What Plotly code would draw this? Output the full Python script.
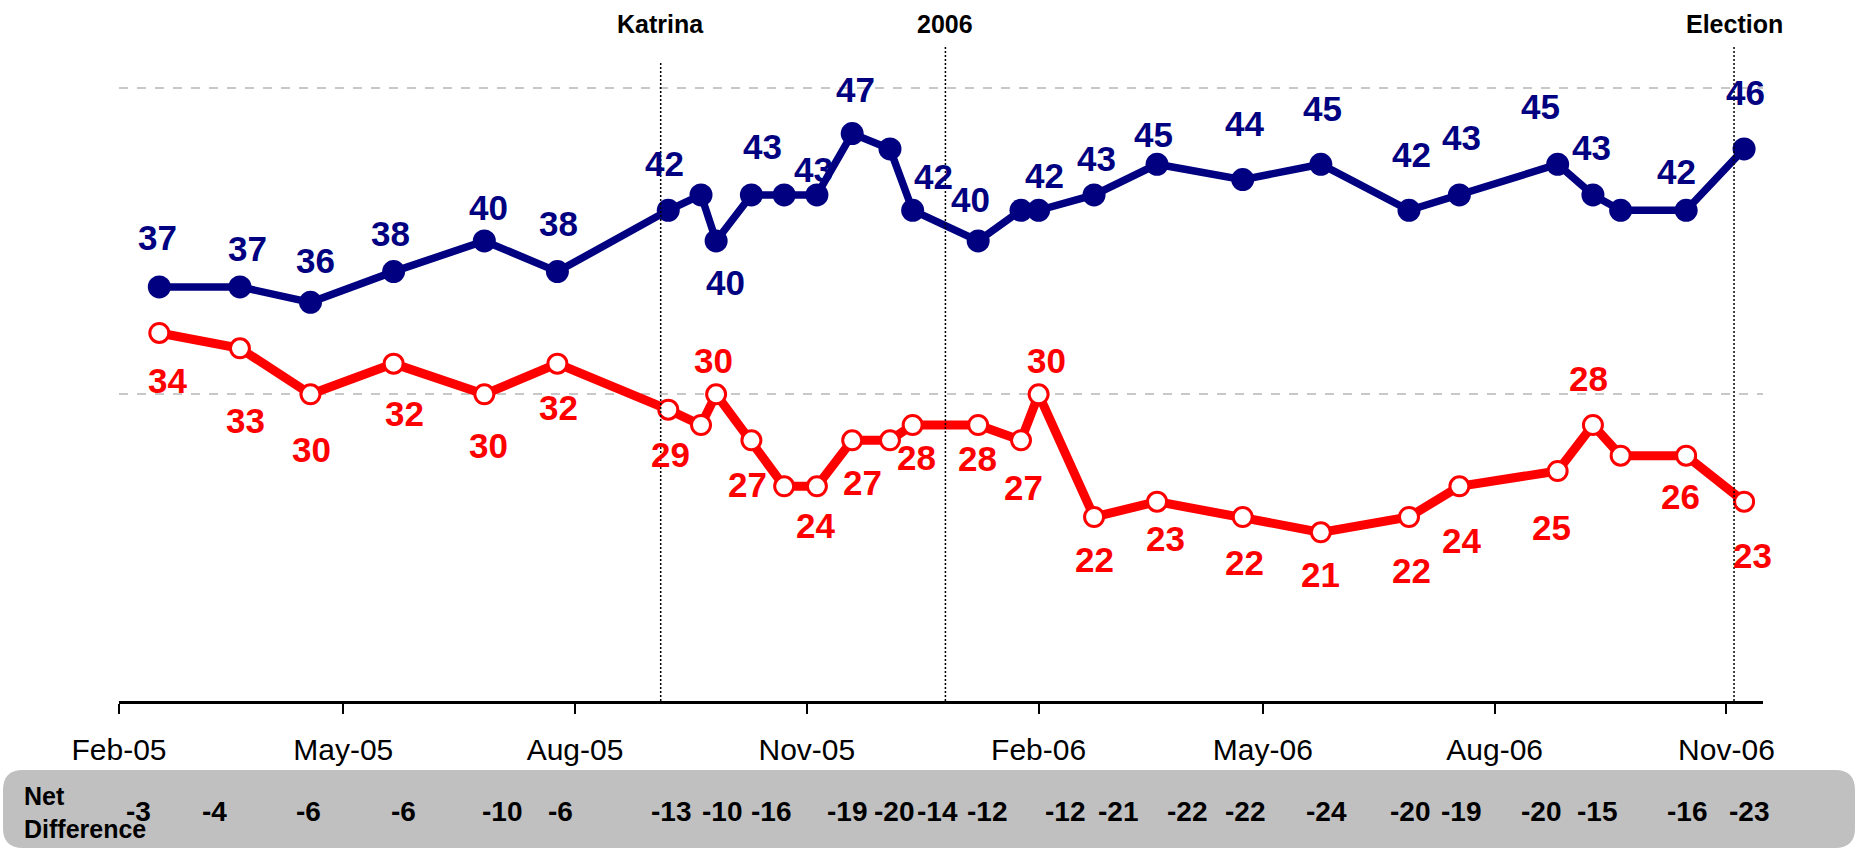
import plotly.graph_objects as go

# ---------------- data ----------------
dates = ["2005-02-17", "2005-03-21", "2005-04-18", "2005-05-21", "2005-06-26", "2005-07-25",
         "2005-09-07", "2005-09-20", "2005-09-26", "2005-10-10", "2005-10-23", "2005-11-05",
         "2005-11-19", "2005-12-04", "2005-12-13", "2006-01-08", "2006-01-25", "2006-02-01",
         "2006-02-23", "2006-03-20", "2006-04-23", "2006-05-24", "2006-06-28", "2006-07-18",
         "2006-08-26", "2006-09-09", "2006-09-20", "2006-10-16", "2006-11-08"]
blue_values = [37, 37, 36, 38, 40, 38, 42, 43, 40, 43, 43, 43, 47, 46, 42, 40, 42, 42,
               43, 45, 44, 45, 42, 43, 45, 43, 42, 42, 46]
red_values = [34, 33, 30, 32, 30, 32, 29, 28, 30, 27, 24, 24, 27, 27, 28, 28, 27, 30,
              22, 23, 22, 21, 22, 24, 25, 28, 26, 26, 23]
blue_labeled = [1, 1, 1, 1, 1, 1, 1, 0, 1, 1, 0, 1, 1, 0, 1, 1, 0, 1, 1, 1, 1, 1, 1, 1, 1, 1, 0, 1, 1]
red_labeled = [1, 1, 1, 1, 1, 1, 1, 0, 1, 1, 0, 1, 1, 0, 1, 1, 1, 1, 1, 1, 1, 1, 1, 1, 1, 1, 0, 1, 1]

tick_dates = ["2005-02-01", "2005-05-01", "2005-08-01", "2005-11-01",
              "2006-02-01", "2006-05-01", "2006-08-01", "2006-11-01"]
tick_labels = ["Feb-05", "May-05", "Aug-05", "Nov-05", "Feb-06", "May-06", "Aug-06", "Nov-06"]

event_names = ["Katrina", "2006", "Election"]
event_dates = ["2005-09-04", "2005-12-26", "2006-11-04"]

# ---------------- layout / style ----------------
W, H = 1860, 853
L, T = 119, 47
PW = 1644
PH = 654
R = W - L - PW
B = H - T - PH
PB = T + PH
FONT = "Liberation Sans, Arial, sans-serif"
NAVY = "#000080"
RED = "#FF0000"

# label offsets in pixels (dx right, dy down) per point
blue_off = [(-2, -49), (8, -38), (5, -42), (-3, -38), (4, -33), (1, -48), (-4, -47), None,
            (9, 42), (11, -48), None, (-3, -25), (3, -44), None, (21, -34), (-8, -41), None,
            (6, -35), (2, -36), (-4, -30), (2, -56), (2, -56), (2, -56), (2, -57), (-17, -58),
            (-1, -47), None, (-10, -39), (1, -56)]
red_off = [(8, 48), (6, 72), (1, 55), (11, 50), (4, 51), (1, 44), (2, 45), None,
           (-3, -34), (-4, 44), None, (-1, 39), (10, 42), None, (4, 33), (-1, 34), (2, 47),
           (8, -34), (0, 43), (8, 37), (2, 46), (0, 42), (2, 54), (2, 54), (-6, 57),
           (-4, -46), None, (-6, 41), (8, 54)]
net_dx = [-21, -25, -2, 10, 18, 3, 3, None, 6, 20, None, 30, 42, None, 25, 9, None, 26, 24,
          30, 2, 6, 1, 2, -17, 4, None, 1, 5]


def pyp(py):
    return (PB - py) / PH


def pxp(px):
    return (px - L) / PW


fig = go.Figure()
fig.add_trace(go.Scatter(x=dates, y=blue_values, mode="lines+markers", name="Blue",
                         line=dict(color=NAVY, width=7.5),
                         marker=dict(symbol="circle", size=23, color=NAVY),
                         hoverinfo="skip"))
fig.add_trace(go.Scatter(x=dates, y=red_values, mode="lines+markers", name="Red",
                         line=dict(color=RED, width=9),
                         marker=dict(symbol="circle", size=19, color="white",
                                     line=dict(color=RED, width=3)),
                         hoverinfo="skip"))

ann = []
for i, d in enumerate(dates):
    if blue_labeled[i] and blue_off[i]:
        dx, dy = blue_off[i]
        ann.append(dict(x=d, y=blue_values[i], xref="x", yref="y", text=str(blue_values[i]),
                        showarrow=False, xshift=dx, yshift=-dy,
                        xanchor="center", yanchor="middle",
                        font=dict(family=FONT, size=35, color=NAVY, weight="bold")))
    if red_labeled[i] and red_off[i]:
        dx, dy = red_off[i]
        ann.append(dict(x=d, y=red_values[i], xref="x", yref="y", text=str(red_values[i]),
                        showarrow=False, xshift=dx, yshift=-dy,
                        xanchor="center", yanchor="middle",
                        font=dict(family=FONT, size=35, color=RED, weight="bold")))
    if blue_labeled[i] and net_dx[i] is not None:
        net = red_values[i] - blue_values[i]
        ann.append(dict(x=d, y=pyp(811), xref="x", yref="paper", text=str(net),
                        showarrow=False, xshift=net_dx[i],
                        xanchor="center", yanchor="middle",
                        font=dict(family=FONT, size=28, color="black", weight="bold")))

for name, d in zip(event_names, event_dates):
    ann.append(dict(x=d, y=pyp(24), xref="x", yref="paper", text=name, showarrow=False,
                    xanchor="center", yanchor="middle",
                    font=dict(family=FONT, size=25, color="black", weight="bold")))

ann.append(dict(x=pxp(22), y=pyp(812), xref="paper", yref="paper", xanchor="left",
                yanchor="middle", align="left", text="Net<br>Difference", showarrow=False,
                font=dict(family=FONT, size=25, color="black", weight="bold")))

shapes = []
# net difference band (rounded rectangle)
x0, y0, x1, y1, r = 3, 770, 1855, 848, 20


def P(px, py):
    return f"{pxp(px):.5f},{pyp(py):.5f}"


path = (f"M {P(x0 + r, y0)} L {P(x1 - r, y0)} Q {P(x1, y0)} {P(x1, y0 + r)} "
        f"L {P(x1, y1 - r)} Q {P(x1, y1)} {P(x1 - r, y1)} L {P(x0 + r, y1)} "
        f"Q {P(x0, y1)} {P(x0, y1 - r)} L {P(x0, y0 + r)} Q {P(x0, y0)} {P(x0 + r, y0)} Z")
shapes.append(dict(type="path", path=path, xref="paper", yref="paper",
                   fillcolor="#C0C0C0", line=dict(width=0), layer="below"))

event_tops = [pyp(62), 1.0, 1.0]
for d, top in zip(event_dates, event_tops):
    shapes.append(dict(type="line", x0=d, x1=d, y0=0, y1=top, xref="x", yref="paper",
                       line=dict(color="black", width=1.5, dash="2px,2px"), layer="above"))

fig.update_layout(
    width=W, height=H,
    margin=dict(l=L, r=R, t=T, b=B, pad=0),
    plot_bgcolor="white", paper_bgcolor="white",
    showlegend=False,
    annotations=ann,
    shapes=shapes,
    font=dict(family=FONT),
    xaxis=dict(type="date", range=["2005-02-01", "2006-11-15 12:00"],
               tickvals=tick_dates, ticktext=tick_labels,
               showline=True, linecolor="black", linewidth=3,
               ticks="outside", ticklen=10, tickwidth=2, tickcolor="black",
               showgrid=False, zeroline=False,
               tickfont=dict(family=FONT, size=30, color="black"),
               ticklabelstandoff=10),
    yaxis=dict(range=[10, 10 + PH / 15.335], tick0=10, dtick=20,
               showgrid=True, gridcolor="#C8C8C8", gridwidth=1.5, griddash="dash",
               showticklabels=False, zeroline=False, showline=False, ticks=""),
)

fig.write_html("out.html", config={"displayModeBar": False},
               post_script="document.body.style.margin='0';")
